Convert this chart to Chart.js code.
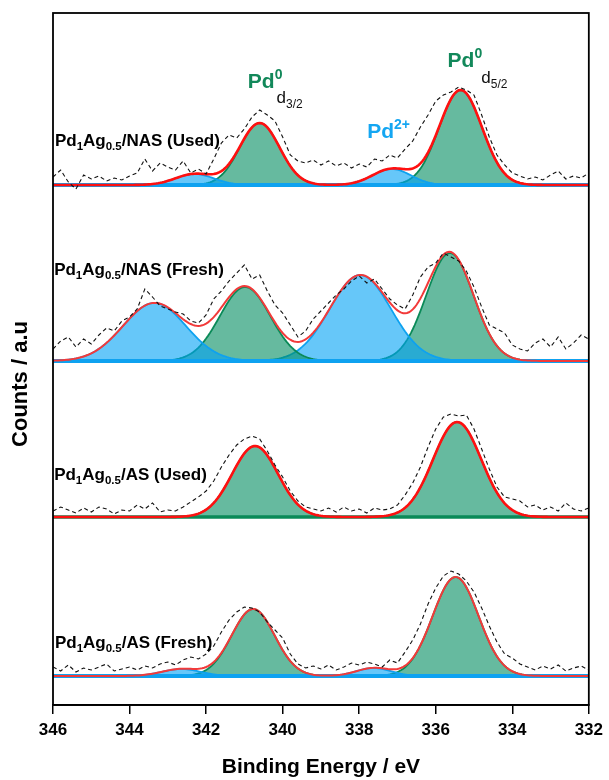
<!DOCTYPE html>
<html lang="en">
<head>
<meta charset="UTF-8">
<title>Pd 3d XPS - Pd1Ag0.5 catalysts</title>
<style>
  html, body { margin: 0; padding: 0; background: #fff; }
  #wrap { position: relative; width: 609px; height: 780px; }
</style>
</head>
<body>
<div id="wrap"><canvas id="xps" width="609" height="780"></canvas></div>

<script src="https://cdn.jsdelivr.net/npm/chart.js"></script>
<script>
  // ---- axis ----
  const energyTicks = [346, 344, 342, 340, 338, 336, 334, 332];
  const eMax = 346, eMin = 332;
  const rawStep = 0.2;      // spectrum sampling (eV)
  const curveStep = 0.05;   // fitted peak sampling (eV)

  // ---- vertical offsets of the four stacked spectra ----
  const panelOffsets = [520, 344, 188, 29];

  // ---- measured spectra (counts, a.u.), 346 -> 332 eV every 0.2 eV ----
  const rawNasUsed = [8,15,3,-4,10,6,9,4,7,5,9,12,26,14,22,18,15,24,12,16,11,26,42,50,47,56,68,75,70,64,48,30,24,22,25,20,24,19,22,17,21,18,26,24,30,27,36,44,58,70,84,90,93,98,95,90,70,48,30,20,12,9,6,8,5,10,14,6,9,7,12];
  const rawNasFresh = [12,20,24,14,22,17,26,33,30,40,44,52,72,64,55,52,49,47,40,38,46,62,70,80,88,96,82,86,70,56,48,36,24,30,42,50,58,66,72,80,85,78,82,72,62,56,52,66,84,94,98,108,104,100,90,74,54,36,32,28,16,12,10,18,22,14,24,12,18,26,22];
  const rawAsUsed = [6,10,7,4,9,5,10,8,3,7,6,12,8,14,5,7,6,10,15,20,26,36,50,62,72,78,81,78,66,52,40,26,16,10,8,6,9,5,10,6,8,4,9,7,8,12,22,34,50,70,88,100,103,101,102,88,68,48,30,20,18,16,10,12,7,10,6,14,8,6,9];
  const rawAsFresh = [9,5,11,4,8,6,9,12,5,7,9,6,10,8,12,14,11,16,19,17,22,30,44,56,64,69,68,64,54,46,38,22,12,8,10,7,11,6,9,13,11,14,12,9,16,13,24,36,52,72,88,100,105,102,95,84,68,50,34,22,18,12,9,6,10,7,11,5,8,10,6];

  // ---- fitted components: centre (eV), height, gaussian sigma (eV), state ----
  const nasUsedCenters = [342.3, 340.6, 337.15, 335.35];
  const nasUsedHeights = [11, 62, 16, 95];
  const nasUsedSigmas  = [0.5, 0.52, 0.5, 0.56];
  const nasUsedStates  = ['Pd2+', 'Pd0', 'Pd2+', 'Pd0'];

  const nasFreshCenters = [343.35, 340.98, 337.97, 335.63];
  const nasFreshHeights = [58, 74, 86, 108];
  const nasFreshSigmas  = [0.82, 0.66, 0.8, 0.62];
  const nasFreshStates  = ['Pd2+', 'Pd0', 'Pd2+', 'Pd0'];

  const asUsedCenters = [340.72, 335.44];
  const asUsedHeights = [71, 95];
  const asUsedSigmas  = [0.6, 0.63];
  const asUsedStates  = ['Pd0', 'Pd0'];

  const asFreshCenters = [342.65, 340.77, 337.62, 335.48];
  const asFreshHeights = [7, 67, 8, 99];
  const asFreshSigmas  = [0.5, 0.56, 0.45, 0.6];
  const asFreshStates  = ['Pd2+', 'Pd0', 'Pd2+', 'Pd0'];

  const FONT = "'Liberation Sans', Arial, Helvetica, sans-serif";
  const GREEN = '#0a8a58', GREEN_FILL = 'rgba(0,140,95,0.6)';
  const BLUE = '#0ea2f0', BLUE_FILL = 'rgba(0,162,245,0.6)';
  const TEXT_GREEN = '#12885a', TEXT_BLUE = '#14a6f2';

  function grid(step) {
    const out = [];
    const n = Math.round((eMax - eMin) / step);
    for (let i = 0; i <= n; i++) out.push(+(eMax - i * step).toFixed(2));
    return out;
  }
  const rawEnergy = grid(rawStep);
  const fitEnergy = grid(curveStep);

  function gauss(e, c, h, s) { return h * Math.exp(-((e - c) * (e - c)) / (2 * s * s)); }

  const panels = [
    { raw: rawNasUsed,  c: nasUsedCenters,  h: nasUsedHeights,  s: nasUsedSigmas,  st: nasUsedStates,  red: '#ff1010', redW: 2.6 },
    { raw: rawNasFresh, c: nasFreshCenters, h: nasFreshHeights, s: nasFreshSigmas, st: nasFreshStates, red: '#f23a3a', redW: 2 },
    { raw: rawAsUsed,   c: asUsedCenters,   h: asUsedHeights,   s: asUsedSigmas,   st: asUsedStates,   red: '#ff1010', redW: 2.6 },
    { raw: rawAsFresh,  c: asFreshCenters,  h: asFreshHeights,  s: asFreshSigmas,  st: asFreshStates,  red: '#f23a3a', redW: 2 }
  ];

  const datasets = [];
  panels.forEach((p, k) => {
    const off = panelOffsets[k];
    // measured spectrum, dashed
    datasets.push({
      data: rawEnergy.map((e, i) => ({ x: e, y: off + p.raw[i] })),
      borderColor: '#111', borderWidth: 1.1, borderDash: [4, 3], tension: 0, fill: false, order: 0
    });
    // envelope of the fit
    datasets.push({
      data: fitEnergy.map(e => ({ x: e, y: off + p.c.reduce((sum, c, j) => sum + gauss(e, c, p.h[j], p.s[j]), 0) })),
      borderColor: p.red, borderWidth: p.redW, tension: 0, fill: false, order: 1
    });
    // baseline
    const hasBlue = p.st.includes('Pd2+');
    datasets.push({
      data: [{ x: eMax, y: off }, { x: eMin, y: off }],
      borderColor: hasBlue ? BLUE : GREEN, borderWidth: hasBlue ? 4 : 3.5, fill: false, order: 2
    });
    // individual components
    p.c.forEach((c, j) => {
      const blue = p.st[j] === 'Pd2+';
      datasets.push({
        data: fitEnergy.map(e => ({ x: e, y: off + gauss(e, c, p.h[j], p.s[j]) })),
        borderColor: blue ? BLUE : GREEN, backgroundColor: blue ? BLUE_FILL : GREEN_FILL,
        borderWidth: 1.8, tension: 0, fill: { value: off }, order: 3
      });
    });
  });

  // sample names with subscripts, anchored in data units
  function sampleLabel(support, state) {
    const b = { bold: true, color: '#000' };
    return [
      { ...b, text: 'Pd', size: 17 }, { ...b, text: '1', size: 11.5, dy: 4 },
      { ...b, text: 'Ag', size: 17 }, { ...b, text: '0.5', size: 11.5, dy: 4 },
      { ...b, text: '/' + support + ' (' + state + ')', size: 17 }
    ];
  }
  function pdLabel(sup, color) {
    return [{ text: 'Pd', size: 21, bold: true, color }, { text: sup, size: 14, bold: true, color, dy: -9 }];
  }
  function orbital(sub) {
    return [{ text: 'd', size: 17, color: '#111' }, { text: sub, size: 12, color: '#111', dy: 5 }];
  }

  const annotations = [
    { x: 345.95, y: 559, parts: sampleLabel('NAS', 'Used') },
    { x: 345.97, y: 430, parts: sampleLabel('NAS', 'Fresh') },
    { x: 345.97, y: 225, parts: sampleLabel('AS', 'Used') },
    { x: 345.95, y: 57,  parts: sampleLabel('AS', 'Fresh') },
    { x: 340.91, y: 617, parts: pdLabel('0', TEXT_GREEN) },
    { x: 340.16, y: 602, parts: orbital('3/2') },
    { x: 335.69, y: 638, parts: pdLabel('0', TEXT_GREEN) },
    { x: 334.81, y: 622, parts: orbital('5/2') },
    { x: 337.79, y: 567, parts: pdLabel('2+', TEXT_BLUE) }
  ];

  function drawParts(ctx, x, y, parts) {
    let cx = x;
    parts.forEach(p => {
      ctx.font = (p.bold ? 'bold ' : '') + p.size + 'px ' + FONT;
      ctx.fillStyle = p.color;
      ctx.fillText(p.text, cx, y + (p.dy || 0));
      cx += ctx.measureText(p.text).width;
    });
  }

  const decorations = {
    id: 'decorations',
    afterDraw(chart) {
      const { ctx, chartArea: a, scales } = chart;
      ctx.save();
      // frame
      ctx.strokeStyle = '#000';
      ctx.lineWidth = 1.8;
      ctx.strokeRect(a.left, a.top, a.right - a.left, a.bottom - a.top);
      // labels
      ctx.textAlign = 'left';
      ctx.textBaseline = 'alphabetic';
      annotations.forEach(t => drawParts(ctx, scales.x.getPixelForValue(t.x), scales.y.getPixelForValue(t.y), t.parts));
      // y title
      ctx.translate(21, 384);
      ctx.rotate(-Math.PI / 2);
      ctx.textAlign = 'center';
      ctx.textBaseline = 'middle';
      ctx.font = 'bold 22px ' + FONT;
      ctx.fillStyle = '#000';
      ctx.fillText('Counts / a.u', 0, 0);
      ctx.restore();
    }
  };

  new Chart(document.getElementById('xps'), {
    type: 'line',
    data: { datasets },
    options: {
      responsive: false,
      animation: false,
      devicePixelRatio: 1,
      layout: { padding: { left: 53, right: 17, top: 13, bottom: 0 } },
      elements: { point: { radius: 0 } },
      plugins: { legend: { display: false }, tooltip: { enabled: false } },
      scales: {
        x: {
          type: 'linear', reverse: true, min: eMin, max: eMax,
          afterBuildTicks: s => { s.ticks = energyTicks.map(v => ({ value: v })); },
          afterFit: s => { s.height = 75; },
          ticks: { font: { family: FONT, weight: 'bold', size: 17 }, color: '#000', padding: 6, maxRotation: 0, autoSkip: false },
          grid: { drawOnChartArea: false, drawTicks: true, tickLength: 9, color: '#000', lineWidth: 1.5 },
          border: { display: true, color: '#000', width: 1.8 },
          title: { display: true, text: 'Binding Energy / eV', color: '#000',
                   font: { family: FONT, weight: 'bold', size: 21 }, padding: { top: 0, bottom: 0 } }
        },
        y: { display: false, min: 0, max: 692 }
      }
    },
    plugins: [decorations]
  });
</script>
</body>
</html>
